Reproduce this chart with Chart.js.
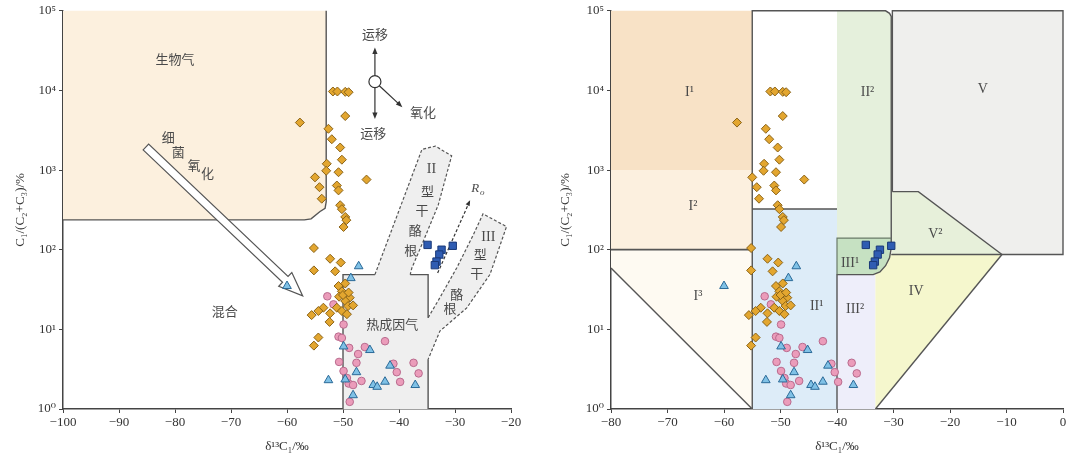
<!DOCTYPE html>
<html>
<head>
<meta charset="utf-8">
<script src="https://cdn.jsdelivr.net/npm/chart.js@4.4.1/dist/chart.umd.min.js"></script>
<style>
html, body { margin: 0; padding: 0; background: #fff; }
#wrap { position: relative; width: 1080px; height: 459px; }
.pane { position: absolute; top: 0; width: 540px; height: 459px; }
</style>
</head>
<body>
<div id="wrap">
  <div class="pane" style="left:0"><canvas id="leftChart"></canvas></div>
  <div class="pane" style="left:540px"><canvas id="rightChart"></canvas></div>
</div>
<script>
// ============================================================
//  DATA
// ============================================================
var xTicksLeft  = [-100, -90, -80, -70, -60, -50, -40, -30, -20];
var xTicksRight = [-80, -70, -60, -50, -40, -30, -20, -10, 0];
var yTicks      = [1, 10, 100, 1000, 10000, 100000];
var yTickText   = ['10⁰', '10¹', '10²', '10³', '10⁴', '10⁵'];

// diamonds (orange)
var diamondX = [-51.8, -51.0, -49.6, -49.0, -57.7, -49.6, -52.6, -52.0, -50.5, -50.2,
                -52.9, -53.0, -50.8, -45.8, -55.0, -54.2, -51.1, -50.8, -53.8, -50.5,
                -50.2, -49.6, -49.4, -49.9, -55.2, -52.3, -50.4, -55.2, -51.4, -50.8,
                -49.6, -50.2, -48.8, -50.7, -49.6, -49.1, -48.2, -53.5, -54.4, -55.6,
                -51.1, -50.2, -49.3, -52.3, -52.4, -54.4, -55.2, -50.0, -49.0];
var diamondY = [9700, 9700, 9600, 9500, 3950, 4770, 3300, 2440, 1920, 1350,
                1200, 980, 940, 760, 810, 610, 640, 556, 437, 362,
                323, 258, 235, 193, 105, 77, 69, 55, 53.5, 35,
                37.7, 30, 25, 25.7, 22.7, 19.6, 20, 18.7, 17, 15.1,
                18.7, 17, 15.5, 15.9, 12.4, 7.9, 6.25, 27, 29];

// triangles (blue)
var triX = [-60.0, -47.2, -48.6, -49.9, -45.2, -52.6, -49.6, -47.6, -41.6, -44.6, -43.9, -42.5, -37.1, -48.2];
var triY = [35, 62, 44, 6.1, 5.5, 2.3, 2.35, 2.9, 3.5, 2.0, 1.9, 2.2, 2.0, 1.49];

// circles (pink)
var circX = [-52.8, -51.7, -49.9, -50.8, -50.2, -48.9, -46.1, -42.5, -47.3, -50.7, -47.6,
             -49.9, -49.3, -41.0, -40.4, -37.4, -36.5, -39.8, -46.7, -49.0, -48.2, -48.8];
var circY = [26, 20.6, 11.5, 8.1, 7.8, 5.85, 6.0, 7.1, 4.9, 3.9, 3.8,
             3.0, 2.45, 3.7, 2.9, 3.8, 2.8, 2.19, 2.25, 2.09, 2.0, 1.23];

// squares (dark blue)
var sqX = [-34.9, -30.4, -32.4, -32.8, -33.3, -33.6];
var sqY = [115, 112, 100, 87, 71, 64];

// ---- left panel zones ----
var bioBox = [[-100, 1e5], [-53, 1e5], [-53, 400], [-53.2, 330], [-54.1, 302], [-55.7, 244], [-56.9, 237], [-100, 237]];
var thermoZone = [[-50, 1], [-50, 48.7], [-44.3, 48.7], [-35.9, 1820], [-33.5, 2000], [-30.6, 1510], [-33.0, 363],
                  [-35.7, 126], [-37.7, 59], [-38, 48.7], [-34.8, 48.7], [-34.8, 14], [-32.7, 25], [-29.7, 59],
                  [-26.7, 155], [-25.0, 282], [-20.8, 195], [-23.75, 49], [-27.9, 18.6], [-32.7, 9.5], [-34.8, 4.2], [-34.8, 1]];
var thermoSolid1 = [[-50, 1], [-50, 48.7], [-44.3, 48.7]];
var thermoSolid2 = [[-38, 48.7], [-34.8, 48.7], [-34.8, 14]];
var thermoSolid3 = [[-34.8, 4.2], [-34.8, 1]];
var kerogen2Edge = [[-44.3, 48.7], [-35.9, 1820], [-33.5, 2000], [-30.6, 1510], [-33.0, 363], [-35.7, 126], [-37.7, 59], [-38, 48.7]];
var kerogen3Edge = [[-34.8, 14], [-32.7, 25], [-29.7, 59], [-26.7, 155], [-25.0, 282], [-20.8, 195], [-23.75, 49], [-27.9, 18.6], [-32.7, 9.5], [-34.8, 4.2]];
var bigArrow  = [[-85.2, 1950], [-57.2, 26.3]];
var roArrow   = [[-33.1, 51], [-27.3, 417]];
var roLabel   = [-26.4, 590];
var migCenter = [-44.3, 12900];
var migUp     = [-44.3, 34700];
var migDown   = [-44.3, 4365];
var migOxid   = [-39.4, 6170];

var leftLabels = [
  ['生物气', -80.0, 25100], ['混合', -71.1, 17], ['热成因气', -41.2, 11.7],
  ['细', -81.2, 2630], ['菌', -79.4, 1700], ['氧', -76.6, 1150], ['化', -74.2, 912],
  ['运移', -44.3, 51300], ['运移', -44.6, 2880], ['氧化', -35.7, 5370],
  ['型', -34.9, 550], ['干', -35.9, 316], ['酪', -37.1, 178], ['根', -37.9, 100],
  ['型', -25.5, 87], ['干', -26.1, 51], ['酪', -29.7, 27.5], ['根', -30.9, 18.6]
];
var leftRoman = [['II', -34.2, 1020], ['III', -24.05, 145]];

// ---- right panel zones ----
var zoneI1   = [[-80, 1000], [-55, 1000], [-55, 1e5], [-80, 1e5]];
var zoneI2   = [[-80, 100], [-55, 100], [-55, 1000], [-80, 1000]];
var zoneI3   = [[-80, 59], [-55, 1], [-55, 100], [-80, 100]];
var zoneII1  = [[-55, 1], [-40, 1], [-40, 324], [-55, 324]];
var zoneII2  = [[-40, 140], [-30.4, 140], [-30.4, 85000], [-30.7, 93000], [-31.4, 1e5], [-40, 1e5]];
var zoneIII1 = [[-40, 48.7], [-33.6, 48.7], [-32.4, 52.5], [-31.4, 63], [-30.7, 79], [-30.4, 105], [-30.4, 140], [-40, 140]];
var zoneIII2 = [[-40, 1], [-33.2, 1], [-33.2, 48.7], [-40, 48.7]];
var zoneIV   = [[-33.2, 1], [-10.8, 87], [-30.4, 87], [-30.4, 105], [-30.7, 79], [-31.4, 63], [-32.4, 52.5], [-33.6, 48.7], [-33.2, 48.7]];
var zoneV    = [[-30.3, 87], [0, 87], [0, 1e5], [-30.3, 1e5]];
var zoneV2   = [[-30.3, 87], [-10.8, 87], [-25.6, 536], [-30.3, 536]];
var outlineII = [[-55, 1], [-55, 1e5], [-31.4, 1e5], [-30.7, 93000], [-30.4, 85000], [-30.4, 105], [-30.7, 79],
                 [-31.4, 63], [-32.4, 52.5], [-33.6, 48.7], [-40, 48.7], [-40, 1]];
var lineI2    = [[-80, 100], [-55, 100]];
var lineI3    = [[-80, 59], [-55, 1]];
var lineII1   = [[-55, 324], [-40, 324]];
var lineIII1  = [[-40, 48.7], [-40, 140], [-30.4, 140]];
var outlineV  = [[-30.2, 536], [-30.2, 1e5], [0, 1e5], [0, 87], [-30.4, 87]];
var outlineV2 = [[-30.2, 536], [-25.6, 536], [-10.8, 87]];
var lineIV    = [[-10.8, 87], [-33.2, 1]];

var rightLabels = [
  ['I¹', -66.1, 9500], ['I²', -65.5, 347], ['I³', -64.6, 26], ['II¹', -43.6, 19.5],
  ['II²', -34.6, 9500], ['III¹', -37.7, 68], ['III²', -36.8, 17.8], ['IV', -26.0, 30],
  ['V', -14.2, 10200], ['V²', -22.6, 155]
];

// ============================================================
//  HELPERS
// ============================================================
var SERIF = '"Liberation Serif", "DejaVu Serif", serif';
var CJK   = '"Noto Sans CJK SC", sans-serif';
var INK   = '#4a4a4a';

function pts(xs, ys) { return xs.map(function(x, i) { return { x: x, y: ys[i] }; }); }

function pathOf(ctx, P, list) {
  list.forEach(function(p, i) {
    var q = P(p);
    if (i) ctx.lineTo(q[0], q[1]); else ctx.moveTo(q[0], q[1]);
  });
}

function solidArrow(ctx, a, b, head) {
  var ang = Math.atan2(b[1] - a[1], b[0] - a[0]);
  ctx.beginPath(); ctx.moveTo(a[0], a[1]);
  ctx.lineTo(b[0] - Math.cos(ang) * head * 0.8, b[1] - Math.sin(ang) * head * 0.8); ctx.stroke();
  ctx.beginPath();
  ctx.moveTo(b[0], b[1]);
  ctx.lineTo(b[0] - head * Math.cos(ang - 0.38), b[1] - head * Math.sin(ang - 0.38));
  ctx.lineTo(b[0] - head * Math.cos(ang + 0.38), b[1] - head * Math.sin(ang + 0.38));
  ctx.closePath(); ctx.fill();
}

function hollowArrow(ctx, s, t) {
  var dx = t[0] - s[0], dy = t[1] - s[1], L = Math.hypot(dx, dy);
  var ux = dx / L, uy = dy / L, nx = -uy, ny = ux;
  var w = 4, W = 9.5, H = 24;
  var bx = t[0] - ux * H, by = t[1] - uy * H;
  var poly = [[s[0] + nx * w, s[1] + ny * w], [bx + nx * w, by + ny * w], [bx + nx * W, by + ny * W], t,
              [bx - nx * W, by - ny * W], [bx - nx * w, by - ny * w], [s[0] - nx * w, s[1] - ny * w]];
  ctx.beginPath();
  poly.forEach(function(p, i) { if (i) ctx.lineTo(p[0], p[1]); else ctx.moveTo(p[0], p[1]); });
  ctx.closePath();
  ctx.fillStyle = '#fff'; ctx.fill();
  ctx.strokeStyle = '#555'; ctx.lineWidth = 1.2; ctx.stroke();
}

function shapesPlugin(spec) {
  return {
    id: 'shapes',
    beforeDatasetsDraw: function(chart) {
      var ctx = chart.ctx, sx = chart.scales.x, sy = chart.scales.y, a = chart.chartArea;
      function P(p) { return [sx.getPixelForValue(p[0]), sy.getPixelForValue(p[1])]; }
      ctx.save();
      ctx.beginPath(); ctx.rect(a.left, a.top - 1, a.right - a.left + 1, a.bottom - a.top + 1); ctx.clip();
      spec.fills.forEach(function(f) {
        ctx.beginPath(); pathOf(ctx, P, f[0]); ctx.closePath();
        ctx.fillStyle = f[1]; ctx.fill();
      });
      spec.lines.forEach(function(l) {
        ctx.beginPath(); pathOf(ctx, P, l[0]);
        ctx.setLineDash(l[2] ? [3, 2] : []);
        ctx.strokeStyle = l[1]; ctx.lineWidth = l[3] || 1.4; ctx.stroke();
      });
      ctx.setLineDash([]);
      ctx.restore();

      ctx.save();
      ctx.textAlign = 'center'; ctx.textBaseline = 'middle';
      ctx.fillStyle = INK;
      ctx.font = '13px ' + CJK;
      (spec.cjk || []).forEach(function(t) { var q = P([t[1], t[2]]); ctx.fillText(t[0], q[0], q[1]); });
      ctx.font = '14px ' + SERIF;
      (spec.roman || []).forEach(function(t) { var q = P([t[1], t[2]]); ctx.fillText(t[0], q[0], q[1]); });
      if (spec.extra) spec.extra(ctx, P);
      ctx.restore();
    }
  };
}

function leftExtras(ctx, P) {
  hollowArrow(ctx, P(bigArrow[0]), P(bigArrow[1]));

  // migration / oxidation glyph
  var c = P(migCenter), r = 6;
  ctx.strokeStyle = '#333'; ctx.fillStyle = '#333'; ctx.lineWidth = 1.2;
  solidArrow(ctx, [c[0], c[1] - r], P(migUp), 7);
  solidArrow(ctx, [c[0], c[1] + r], P(migDown), 7);
  var o = P(migOxid), ang = Math.atan2(o[1] - c[1], o[0] - c[0]);
  solidArrow(ctx, [c[0] + r * Math.cos(ang), c[1] + r * Math.sin(ang)], o, 7);
  ctx.beginPath(); ctx.arc(c[0], c[1], r, 0, Math.PI * 2);
  ctx.fillStyle = '#fff'; ctx.fill(); ctx.stroke();

  // Ro maturity arrow (dashed)
  var s = P(roArrow[0]), e = P(roArrow[1]);
  ctx.fillStyle = '#333';
  ctx.setLineDash([3, 2]);
  ctx.beginPath(); ctx.moveTo(s[0], s[1]); ctx.lineTo(e[0], e[1]); ctx.stroke();
  ctx.setLineDash([]);
  solidArrow(ctx, [e[0] - 1, e[1] + 2], e, 6);
  var rl = P(roLabel);
  ctx.font = 'italic 13px ' + SERIF; ctx.fillStyle = INK;
  ctx.fillText('R', rl[0], rl[1]);
  ctx.font = 'italic 9px ' + SERIF;
  ctx.fillText('o', rl[0] + 7, rl[1] + 4);
}

function makeDatasets() {
  return [
    { label: 'diamond', data: pts(diamondX, diamondY), pointStyle: 'rectRot', pointRadius: 4.5,
      backgroundColor: '#e3a62f', borderColor: '#8a6318', borderWidth: 1 },
    { label: 'triangle', data: pts(triX, triY), pointStyle: 'triangle', pointRadius: 5,
      backgroundColor: '#7fc1e6', borderColor: '#2b6a98', borderWidth: 1 },
    { label: 'circle', data: pts(circX, circY), pointStyle: 'circle', pointRadius: 3.8,
      backgroundColor: '#eb9cba', borderColor: '#b96b8e', borderWidth: 1 },
    { label: 'square', data: pts(sqX, sqY), pointStyle: 'rect', pointRadius: 5.2,
      backgroundColor: '#2f5cb2', borderColor: '#1a3978', borderWidth: 1 }
  ];
}

function makeScales(xmin, xmax, xTicks, yWidth, yTitlePad) {
  return {
    x: {
      type: 'linear', min: xmin, max: xmax,
      afterBuildTicks: function(s) { s.ticks = xTicks.map(function(v) { return { value: v }; }); },
      afterFit: function(s) { s.height = 50; },
      border: { display: true, color: '#444', width: 1.5 },
      grid: { drawOnChartArea: false, drawTicks: true, tickLength: 4, color: '#444' },
      ticks: { color: '#333', padding: 2, maxRotation: 0, font: { family: SERIF, size: 13 },
               callback: function(v) { return String(v).replace('-', '−'); } },
      title: { display: true, text: 'δ¹³C₁/‰', color: '#333', font: { family: SERIF, size: 13 },
               padding: { top: 0, bottom: 5 } }
    },
    y: {
      type: 'logarithmic', min: 1, max: 1e5,
      afterBuildTicks: function(s) { s.ticks = yTicks.map(function(v) { return { value: v }; }); },
      afterFit: function(s) { s.width = yWidth; },
      border: { display: true, color: '#444', width: 1.5 },
      grid: { drawOnChartArea: false, drawTicks: true, tickLength: 4, color: '#444' },
      ticks: { color: '#333', padding: 3, font: { family: SERIF, size: 13 },
               callback: function(v) { var i = yTicks.indexOf(v); return i < 0 ? '' : yTickText[i]; } },
      title: { display: true, text: 'C₁/(C₂+C₃)/%', color: '#333', font: { family: SERIF, size: 13 },
               padding: { top: yTitlePad, bottom: 0 } }
    }
  };
}

function makeChart(id, scales, padding, plugin) {
  return new Chart(document.getElementById(id), {
    type: 'scatter',
    data: { datasets: makeDatasets() },
    options: {
      responsive: true, maintainAspectRatio: false, animation: false,
      layout: { padding: padding },
      plugins: { legend: { display: false }, tooltip: { enabled: false } },
      scales: scales
    },
    plugins: [plugin]
  });
}

// ============================================================
//  CHARTS
// ============================================================
var leftSpec = {
  fills: [[bioBox, '#fcf0de'], [thermoZone, '#efefef']],
  lines: [[bioBox.slice(1), '#555', false, 1.4],
          [thermoSolid1, '#555', false], [thermoSolid2, '#555', false], [thermoSolid3, '#555', false],
          [kerogen2Edge, '#555', true, 1.2], [kerogen3Edge, '#555', true, 1.2]],
  cjk: leftLabels,
  roman: leftRoman,
  extra: leftExtras
};

var rightSpec = {
  fills: [[zoneI1, '#f8e2c6'], [zoneI2, '#fcf0df'], [zoneI3, '#fefaf2'], [zoneII1, '#ddecf8'],
          [zoneII2, '#e5f0dc'], [zoneIII1, '#c6e1c2'], [zoneIII2, '#eeeefa'], [zoneIV, '#f5f7cd'],
          [zoneV, '#efefed'], [zoneV2, '#e7f0da']],
  lines: [[outlineII, '#555'], [lineI2, '#555', false, 1.8], [lineI3, '#555'], [lineII1, '#555'],
          [lineIII1, '#6a7a68', false, 1.2], [outlineV, '#555'], [outlineV2, '#555'], [lineIV, '#555']],
  roman: rightLabels
};

makeChart('leftChart', makeScales(-100, -20, xTicksLeft, 63, 13),
          { top: 7, right: 29, left: 0, bottom: 0 }, shapesPlugin(leftSpec));
makeChart('rightChart', makeScales(-80, 0, xTicksRight, 71, 18),
          { top: 7, right: 17, left: 0, bottom: 0 }, shapesPlugin(rightSpec));
</script>
</body>
</html>
